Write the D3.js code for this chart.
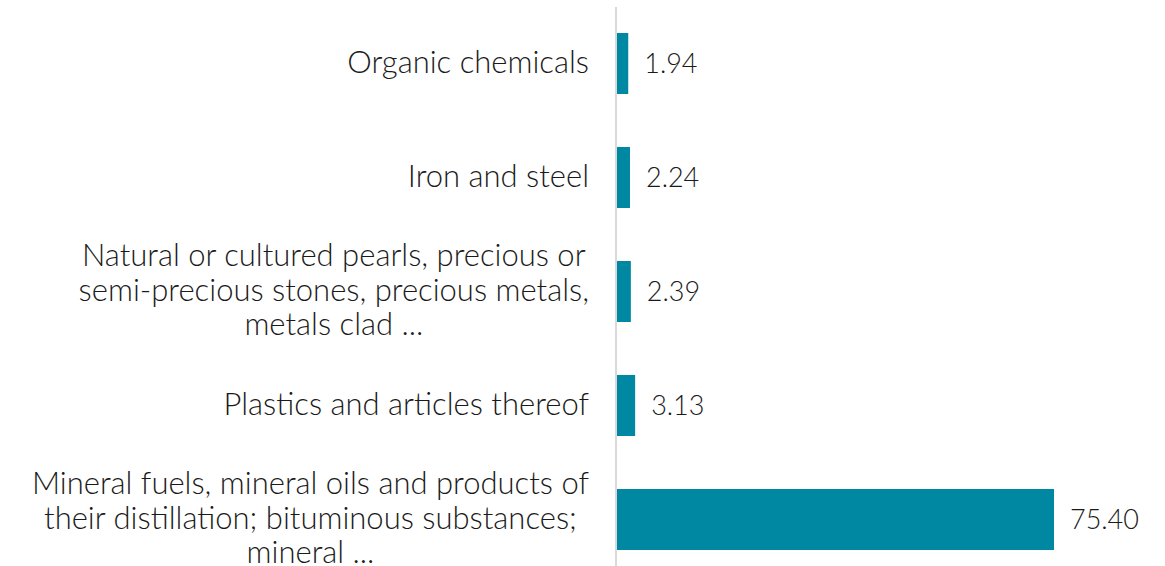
<!DOCTYPE html>
<html>
<head>
<meta charset="utf-8">
<script src="https://cdn.jsdelivr.net/npm/d3@7"></script>
<style>
  body { margin: 0; background: #fff; }
  text { font-family: Lato, "Open Sans", sans-serif; fill: #1a1a1a; font-weight: 300; }
</style>
</head>
<body>
<div id="chart"></div>
<script>
// Data
var categories = [
    "Organic chemicals",
    "Iron and steel",
    "Natural or cultured pearls, precious or semi-precious stones, precious metals, metals clad ...",
    "Plastics and articles thereof",
    "Mineral fuels, mineral oils and products of their distillation; bituminous substances; mineral ..."
];
var labelLines = [
    ["Organic chemicals"],
    ["Iron and steel"],
    ["Natural or cultured pearls, precious or", "semi-precious stones, precious metals,", "metals clad ..."],
    ["Plastics and articles thereof"],
    ["Mineral fuels, mineral oils and products of", "their distillation; bituminous substances;", "mineral ..."]
];
var values = [1.94, 2.24, 2.39, 3.13, 75.40];

// Plotting vars
var width = 1165,
    height = 566,
    axisX = 617,
    labelRight = 589;

var svg = d3.select("#chart")
.append("svg")
    .attr("width", width)
    .attr("height", height);

var x = d3.scaleLinear()
    .domain([0, 75.40])
    .range([axisX, 1054]);

var y = d3.scaleBand()
    .domain(categories)
    .range([6.5, 576.5])
    .paddingInner(0.465)
    .paddingOuter(0.2325);

var data = categories.map(function(c, i) {
    return {cat: c, val: values[i], lines: labelLines[i]};
});

// bars
svg.selectAll("rect.bar")
    .data(data)
    .enter()
    .append("rect")
    .attr("class", "bar")
    .attr("x", x(0))
    .attr("y", function(d) {return y(d.cat)})
    .attr("width", function(d) {return x(d.val) - x(0)})
    .attr("height", y.bandwidth())
    .style("fill", "#0088a3");

// axis line
svg.append("line")
    .attr("x1", axisX - 1)
    .attr("x2", axisX - 1)
    .attr("y1", 7)
    .attr("y2", height)
    .style("stroke", "#d9d9d9")
    .style("stroke-width", 2);

// value labels
svg.selectAll("text.val")
    .data(data)
    .enter()
    .append("text")
    .attr("class", "val")
    .attr("x", function(d) {return x(d.val) + 16})
    .attr("y", function(d) {return y(d.cat) + y.bandwidth() / 2})
    .attr("dy", "0.36em")
    .style("font-size", "27px")
    .text(function(d) {return d.val.toFixed(2)});

// category labels: block right-aligned, lines centered within block
var lineH = 34.5;
var groups = svg.selectAll("g.cat")
    .data(data)
    .enter()
    .append("g")
    .attr("class", "cat");

groups.each(function(d) {
    var g = d3.select(this);
    var cy = y(d.cat) + y.bandwidth() / 2;
    var n = d.lines.length;
    var texts = g.selectAll("text")
        .data(d.lines)
        .enter()
        .append("text")
        .attr("y", function(l, i) {return cy + (i - (n - 1) / 2) * lineH})
        .attr("dy", "0.3em")
        .style("font-size", "31px")
        .text(function(l) {return l});
    var maxW = 0;
    texts.each(function() {maxW = Math.max(maxW, this.getComputedTextLength())});
    texts.attr("x", labelRight - maxW / 2)
        .attr("text-anchor", "middle");
});
</script>
</body>
</html>
